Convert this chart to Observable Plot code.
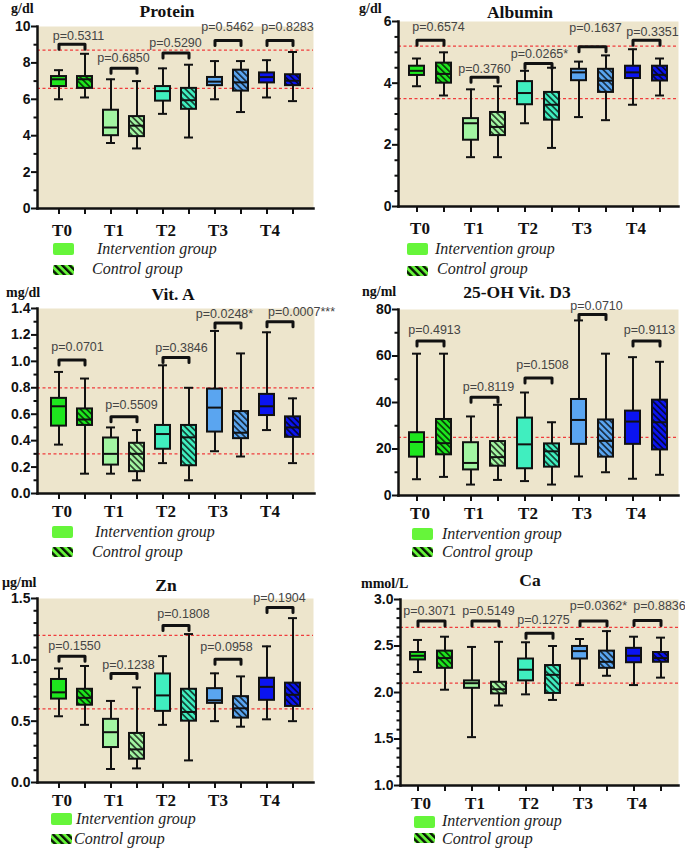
<!DOCTYPE html>
<html><head><meta charset="utf-8">
<script src="https://cdn.jsdelivr.net/npm/d3@7"></script>
<script src="https://cdn.jsdelivr.net/npm/@observablehq/plot@0.6"></script>
<style>
html,body{margin:0;padding:0;background:#fff;}
#root{position:relative;width:685px;height:849px;overflow:hidden;background:#fff;}
.t{position:absolute;white-space:nowrap;line-height:1;}
.title{font:bold 17.5px "Liberation Serif","Times New Roman",serif;color:#111;transform:translateX(-50%);}
.unit{font:bold 14px "Liberation Serif","Times New Roman",serif;color:#111;}
.leg{font:italic 16px "Liberation Serif","Times New Roman",serif;color:#222;}
.sw{position:absolute;display:block;}
</style></head>
<body>
<svg width="0" height="0" style="position:absolute;left:0;top:0">
<defs id="defs"></defs>
</svg>
<div id="root"></div>
<script>
// ---------- shared categories & styles ----------
const timepoints = ["T0", "T1", "T2", "T3", "T4"];
const groupNames = ["Intervention group", "Control group"];
const timeColors = ["#1ee61e", "#a2f5a2", "#40eebf", "#5aa5f0", "#0b14f0"];
const legendColor = "#66f53a";
const beige = "#ede5cc";
const refColor = "#f03c3c";

// each box: [whisker low, Q1, median, Q3, whisker high]
// ---------- Protein (g/dl) ----------
const proteinIntervention = [[6.0,6.7,7.1,7.25,7.6],[3.6,4.0,4.45,5.4,7.1],[5.2,5.9,6.45,6.7,7.7],[6.0,6.75,6.97,7.2,8.1],[6.1,6.9,7.22,7.45,8.15]];
const proteinControl = [[6.1,6.6,7.1,7.25,8.5],[3.3,3.95,4.55,5.05,7.0],[3.9,5.45,5.95,6.6,7.9],[5.3,6.45,6.93,7.6,8.1],[5.9,6.75,7.02,7.35,8.6]];
const proteinP = ["p=0.5311","p=0.6850","p=0.5290","p=0.5462","p=0.8283"];
const proteinBracket = [9.03, 7.7, 8.54, 9.23, 9.23];
const proteinLabelY = [9.49, 8.27, 9.09, 9.95, 9.95];
const proteinRef = [6.6, 8.7];
const proteinTicks = [0, 2, 4, 6, 8, 10];

// ---------- Albumin (g/dl) ----------
const albuminIntervention = [[3.9,4.25,4.4,4.55,4.8],[1.6,2.15,2.7,2.85,3.8],[2.7,3.3,3.68,4.05,4.4],[2.9,4.08,4.35,4.45,4.7],[3.3,4.15,4.35,4.55,5.1]];
const albuminControl = [[3.6,4.0,4.3,4.65,5.0],[1.6,2.3,2.58,3.05,3.9],[1.9,2.8,3.3,3.7,4.5],[2.8,3.7,4.08,4.45,4.9],[3.6,4.07,4.27,4.55,4.8]];
const albuminP = ["p=0.6574","p=0.3760","p=0.0265*","p=0.1637","p=0.3351"];
const albuminBracket = [5.39, 4.19, 4.64, 5.18, 5.39];
const albuminLabelY = [5.83, 4.46, 4.96, 5.80, 5.66];
const albuminRef = [3.5, 5.2];
const albuminTicks = [0, 2, 4, 6];

// ---------- Vit. A (mg/dl) ----------
const vitAIntervention = [[0.37,0.51,0.66,0.72,0.92],[0.15,0.215,0.30,0.42,0.50],[0.23,0.335,0.45,0.515,0.97],[0.32,0.465,0.65,0.79,1.23],[0.48,0.59,0.66,0.75,1.22]];
const vitAControl = [[0.15,0.515,0.56,0.64,0.87],[0.10,0.165,0.30,0.38,0.48],[0.10,0.21,0.425,0.515,0.80],[0.28,0.415,0.46,0.62,1.06],[0.23,0.425,0.50,0.58,0.72]];
const vitAP = ["p=0.0701","p=0.5509","p=0.3846","p=0.0248*","p=0.0007***"];
const vitABracket = [1.01, 0.58, 1.03, 1.29, 1.30];
const vitALabelY = [1.109, 0.666, 1.104, 1.362, 1.375];
const vitARef = [0.3, 0.8];
const vitATicks = [0, 0.2, 0.4, 0.6, 0.8, 1.0, 1.2, 1.4];

// ---------- 25-OH Vit. D3 (ng/ml) ----------
const vitDIntervention = [[7,16.5,23,27,61],[4.7,11,14,22.7,34],[6.2,11.5,22,33.3,44.3],[8.2,22,32.5,41.3,75.3],[7.2,22,31.8,36.3,59.5]];
const vitDControl = [[8,17.5,22.5,32.7,61],[6.7,12.6,16.5,23.2,39],[4.7,12.2,19,22.2,31.5],[10,16.5,23.5,32.5,61],[8.9,19.6,31.5,41,57.5]];
const vitDP = ["p=0.4913","p=0.8119","p=0.1508","p=0.0710","p=0.9113"];
const vitDBracket = [66.4, 42.3, 50.5, 77.8, 66.4];
const vitDLabelY = [71.0, 46.6, 56.3, 81.7, 71.0];
const vitDRef = [25];
const vitDTicks = [0, 20, 40, 60, 80];

// ---------- Zn (µg/ml) ----------
const znIntervention = [[0.54,0.68,0.735,0.84,0.93],[0.11,0.285,0.41,0.515,0.665],[0.47,0.58,0.71,0.885,1.03],[0.5,0.645,0.67,0.765,0.89],[0.515,0.67,0.78,0.85,1.11]];
const znControl = [[0.47,0.63,0.69,0.76,0.95],[0.115,0.19,0.27,0.40,0.775],[0.18,0.5,0.575,0.76,1.21],[0.455,0.525,0.605,0.7,0.865],[0.5,0.62,0.715,0.81,1.34]];
const znP = ["p=0.1550","p=0.1238","p=0.1808","p=0.0958","p=0.1904"];
const znBracket = [1.03, 0.889, 1.28, 1.005, 1.427];
const znLabelY = [1.111, 0.957, 1.370, 1.106, 1.508];
const znRef = [0.6, 1.2];
const znTicks = [0, 0.5, 1.0, 1.5];

// ---------- Ca (mmol/L) ----------
const caIntervention = [[2.22,2.35,2.395,2.43,2.565],[1.52,2.045,2.1,2.125,2.49],[1.98,2.125,2.245,2.36,2.54],[2.08,2.36,2.445,2.495,2.575],[2.08,2.32,2.395,2.475,2.6]];
const caControl = [[2.03,2.26,2.37,2.445,2.6],[1.86,1.985,2.035,2.11,2.545],[1.92,1.99,2.19,2.29,2.5],[2.18,2.26,2.33,2.445,2.66],[2.16,2.325,2.37,2.43,2.59]];
const caP = ["p=0.3071","p=0.5149","p=0.1275","p=0.0362*","p=0.8836"];
const caBracket = [2.768, 2.768, 2.636, 2.768, 2.775];
const caLabelY = [2.875, 2.875, 2.779, 2.929, 2.932];
const caRef = [2.1, 2.7];
const caTicks = [1.0, 1.5, 2.0, 2.5, 3.0];

// ---------- panel options (layout) ----------
const panels = [
  {title:"Protein", unit:"g/dl", int:proteinIntervention, ctrl:proteinControl, p:proteinP, br:proteinBracket, ly:proteinLabelY, ref:proteinRef, ticks:proteinTicks, minor:1, fmt:"d",
   left:37, right:313, top:26, bottom:208, titleX:167, titleY:16, unitX:11, unitY:13, tPad:9, ldx:[6,-1,-1,-1,7],
   leg:{rx:53, iy:243, cy:265, itx:97, ity:253, ctx:92, cty:273}},
  {title:"Albumin", unit:"g/dl", int:albuminIntervention, ctrl:albuminControl, p:albuminP, br:albuminBracket, ly:albuminLabelY, ref:albuminRef, ticks:albuminTicks, minor:0.5, fmt:"d",
   left:398, right:678, top:21, bottom:206, titleX:520, titleY:17, unitX:359, unitY:12.7, tPad:9, ldx:[8,0,1,3,6],
   leg:{rx:407, iy:243, cy:266, itx:435, ity:253, ctx:437, cty:273}},
  {title:"Vit. A", unit:"mg/dl", int:vitAIntervention, ctrl:vitAControl, p:vitAP, br:vitABracket, ly:vitALabelY, ref:vitARef, ticks:vitATicks, minor:0.1, fmt:".1f",
   left:37, right:314, top:308, bottom:493, titleX:173, titleY:299, unitX:6, unitY:297, tPad:5, ldx:[5,7,5,-4,21],
   leg:{rx:52, iy:526, cy:547, itx:95, ity:536, ctx:92, cty:556}},
  {title:"25-OH Vit. D3", unit:"ng/ml", int:vitDIntervention, ctrl:vitDControl, p:vitDP, br:vitDBracket, ly:vitDLabelY, ref:vitDRef, ticks:vitDTicks, minor:10, fmt:"d",
   left:398, right:678, top:309, bottom:495, titleX:517, titleY:297, unitX:362, unitY:296, tPad:5, ldx:[4,4,4,4,3],
   leg:{rx:412, iy:528, cy:547, itx:442, ity:538, ctx:442, cty:556}},
  {title:"Zn", unit:"µg/ml", int:znIntervention, ctrl:znControl, p:znP, br:znBracket, ly:znLabelY, ref:znRef, ticks:znTicks, minor:0.1, fmt:".1f",
   left:37, right:313, top:598, bottom:782, titleX:166, titleY:590, unitX:2, unitY:587, tPad:5, ldx:[2,4,7,-2,-1],
   leg:{rx:51, iy:813, cy:834, itx:76, ity:823, ctx:74, cty:843}},
  {title:"Ca", unit:"mmol/L", int:caIntervention, ctrl:caControl, p:caP, br:caBracket, ly:caLabelY, ref:caRef, ticks:caTicks, minor:0.1, fmt:".1f",
   left:400, right:678, top:599, bottom:785, titleX:530, titleY:585, unitX:361, unitY:588, tPad:5, ldx:[-2,3,4,5,12],
   leg:{rx:414, iy:816, cy:833, itx:442, ity:825, ctx:442, cty:843}}
];

// ---------- hatch patterns ----------
const NS = "http://www.w3.org/2000/svg";
const defs = document.getElementById("defs");
function addPattern(id, color, size, stripe, opacity) {
  const p = document.createElementNS(NS, "pattern");
  p.setAttribute("id", id);
  p.setAttribute("patternUnits", "userSpaceOnUse");
  p.setAttribute("width", size);
  p.setAttribute("height", size);
  p.setAttribute("patternTransform", "rotate(-45)");
  const bg = document.createElementNS(NS, "rect");
  bg.setAttribute("width", size); bg.setAttribute("height", size); bg.setAttribute("fill", color);
  const st = document.createElementNS(NS, "rect");
  st.setAttribute("width", stripe); st.setAttribute("height", size); st.setAttribute("fill", "#000"); st.setAttribute("fill-opacity", opacity);
  p.appendChild(bg); p.appendChild(st);
  defs.appendChild(p);
}
timeColors.forEach((c, i) => addPattern("hatch" + i, c, 4.4, 1.7, 0.72));
addPattern("hatchL", legendColor, 5.2, 2.4, 0.9);

const root = document.getElementById("root");
const serif = "Liberation Serif, Times New Roman, serif";
const sans = "Liberation Sans, Arial, Helvetica, sans-serif";

function addText(cls, txt, x, baseline, fs) {
  const d = document.createElement("div");
  d.className = "t " + cls;
  d.textContent = txt;
  d.style.left = x + "px";
  d.style.top = (baseline - 0.84 * fs) + "px";
  root.appendChild(d);
}
function addSwatch(x, y, w, h, fill) {
  const s = document.createElementNS(NS, "svg");
  s.setAttribute("class", "sw");
  s.setAttribute("width", w); s.setAttribute("height", h);
  s.style.left = x + "px"; s.style.top = y + "px";
  const r = document.createElementNS(NS, "rect");
  r.setAttribute("width", w); r.setAttribute("height", h); r.setAttribute("rx", 2); r.setAttribute("fill", fill);
  s.appendChild(r);
  root.appendChild(s);
}

function drawPanel(pn) {
  const keys = [];
  const boxes = [];
  timepoints.forEach((t, i) => {
    [pn.int[i], pn.ctrl[i]].forEach((s, g) => {
      const key = t + (g === 0 ? "-I" : "-C");
      keys.push(key);
      boxes.push({key, lo: s[0], q1: s[1], med: s[2], q3: s[3], hi: s[4],
                  fill: g === 0 ? timeColors[i] : `url(#hatch${i})`});
    });
  });
  const domain = [pn.ticks[0], pn.ticks[pn.ticks.length - 1]];
  const plotH = pn.bottom - pn.top;
  const mt = 34, mb = 40, width = 340;
  const svgLeft = pn.left < 200 ? 0 : 345;
  const delta = (domain[1] - domain[0]) * 5 / plotH;
  const brackets = [], labels = [];
  timepoints.forEach((t, i) => {
    const y = pn.br[i];
    brackets.push({pair: t, key: t + "-I", y: y - delta}, {pair: t, key: t + "-I", y},
                  {pair: t, key: t + "-C", y}, {pair: t, key: t + "-C", y: y - delta});
    labels.push({key: t + "-I", y: pn.ly[i], text: pn.p[i], dx: pn.ldx[i]});
  });
  const majorSet = new Set(pn.ticks.map(v => Math.round(v * 1000)));
  const minorTicks = d3.range(domain[0], domain[1] + pn.minor / 2, pn.minor)
    .map(v => Math.round(v * 1000) / 1000)
    .filter(v => !majorSet.has(Math.round(v * 1000)));
  const fmt = d3.format(pn.fmt);

  const svg = Plot.plot({
    width, height: mt + plotH + mb,
    marginLeft: pn.left - svgLeft, marginRight: svgLeft + width - pn.right,
    marginTop: mt, marginBottom: mb,
    x: {type: "band", domain: keys, paddingInner: 0.44, paddingOuter: 0.36, label: null, axis: null},
    y: {domain, label: null, axis: null},
    color: {type: "identity"},
    style: {background: "transparent", overflow: "visible"},
    marks: [
      Plot.frame({fill: beige, stroke: "none"}),
      Plot.ruleY(pn.ref, {stroke: refColor, strokeWidth: 1.3, strokeDasharray: "3,2.5"}),
      Plot.ruleX(boxes, {x: "key", y1: "lo", y2: "hi", stroke: "#111", strokeWidth: 2}),
      Plot.tickY(boxes, {x: "key", y: "lo", stroke: "#111", strokeWidth: 2, insetLeft: 3, insetRight: 3}),
      Plot.tickY(boxes, {x: "key", y: "hi", stroke: "#111", strokeWidth: 2, insetLeft: 3, insetRight: 3}),
      Plot.barY(boxes, {x: "key", y1: "q1", y2: "q3", fill: "fill", stroke: "#111", strokeWidth: 2}),
      Plot.tickY(boxes, {x: "key", y: "med", stroke: "#111", strokeWidth: 2}),
      Plot.line(brackets, {x: "key", y: "y", z: "pair", stroke: "#111", strokeWidth: 3,
                           strokeLinejoin: "round", strokeLinecap: "round", curve: "linear"}),
      ...labels.map(l => Plot.text([l], {x: "key", y: "y", text: "text", dx: 13.5 + l.dx, fontSize: 12.5,
                         fontFamily: sans, fill: "#444"})),
      Plot.axisY(pn.ticks, {tickSize: 6, tickPadding: 1, tickFormat: fmt, fontSize: 14, fontWeight: "bold",
                            fontFamily: sans, stroke: "#111", strokeWidth: 2, fill: "#111", label: null}),
      Plot.axisY(minorTicks, {tickSize: 3.5, tickFormat: () => "", stroke: "#111", strokeWidth: 2, label: null}),
      Plot.axisX({tickSize: 6, tickFormat: () => "", stroke: "#111", strokeWidth: 2, label: null}),
      Plot.axisX({tickSize: 0, tickPadding: 6 + pn.tPad, dx: 3,
                  tickFormat: k => k.endsWith("-I") ? k.slice(0, 2) : "",
                  fontSize: 17, fontWeight: "bold", fontFamily: serif, fill: "#111", label: null}),
      Plot.frame({anchor: "left", stroke: "#111", strokeWidth: 2.5}),
      Plot.frame({anchor: "bottom", stroke: "#111", strokeWidth: 2.5})
    ]
  });
  svg.style.position = "absolute";
  svg.style.left = svgLeft + "px";
  svg.style.top = (pn.top - mt) + "px";
  root.appendChild(svg);

  addText("title", pn.title, pn.titleX, pn.titleY, 17.5);
  addText("unit", pn.unit, pn.unitX, pn.unitY, 14);
  const L = pn.leg;
  addSwatch(L.rx, L.iy, 21, 12, legendColor);
  addSwatch(L.rx, L.cy, 21, 10, "url(#hatchL)");
  addText("leg", groupNames[0], L.itx, L.ity, 16);
  addText("leg", groupNames[1], L.ctx, L.cty, 16);
}

panels.forEach(drawPanel);
</script>
</body></html>
